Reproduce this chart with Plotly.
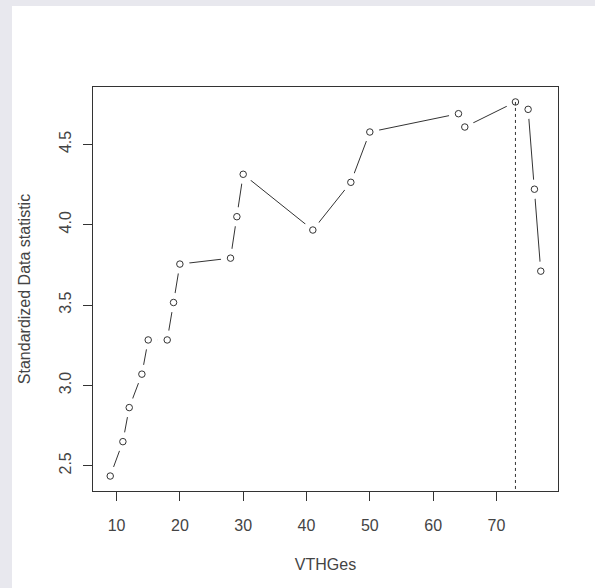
import plotly.graph_objects as go

# Data
vthges = [9, 11, 12, 14, 15, 18, 19, 20, 28, 29, 30, 41, 47, 50, 64, 65, 73, 75, 76, 77]
statistic = [2.436, 2.650, 2.862, 3.070, 3.283, 3.283, 3.516, 3.755, 3.792, 4.050,
             4.314, 3.967, 4.264, 4.577, 4.691, 4.608, 4.764, 4.718, 4.221, 3.711]
x_ticks = [10, 20, 30, 40, 50, 60, 70]
y_ticks = [2.5, 3.0, 3.5, 4.0, 4.5]
y_tick_labels = ["2.5", "3.0", "3.5", "4.0", "4.5"]
best_x = 73

# R-style 4% axis expansion
def expand(vals):
    lo, hi = min(vals), max(vals)
    d = (hi - lo) * 0.04
    return [lo - d, hi + d]

xr = expand(vthges)
yr = expand(statistic)
best_y = statistic[vthges.index(best_x)]

ink = "#333333"
fnt = dict(family="Liberation Sans, Arial, sans-serif", size=16, color="#444444")

fig = go.Figure()
# connecting lines
fig.add_trace(go.Scatter(x=vthges, y=statistic, mode="lines",
                         line=dict(color=ink, width=1), hoverinfo="skip"))
# white masks to create the type="b" gaps
fig.add_trace(go.Scatter(x=vthges, y=statistic, mode="markers",
                         marker=dict(symbol="circle", size=19.5, color="white",
                                     line=dict(width=0)), hoverinfo="skip"))
# dashed vertical line at the maximum
fig.add_trace(go.Scatter(x=[best_x, best_x], y=[best_y, yr[0]], mode="lines",
                         line=dict(color=ink, width=1, dash="3px,3px"), hoverinfo="skip"))
# open circle points
fig.add_trace(go.Scatter(x=vthges, y=statistic, mode="markers",
                         marker=dict(symbol="circle-open", size=6.5, color=ink,
                                     line=dict(width=1, color=ink))))

# outer frame: gray background with white panel
fig.add_shape(type="rect", xref="paper", yref="paper",
              x0=(12 - 93) / 465, x1=(600 - 93) / 465,
              y0=(491 - 600) / 404, y1=(491 - 6) / 404,
              fillcolor="white", line=dict(width=0), layer="below")

fig.update_layout(
    width=595, height=588,
    margin=dict(l=93, r=37, t=87, b=97),
    paper_bgcolor="#e8e8ee", plot_bgcolor="white",
    showlegend=False, font=fnt,
    xaxis=dict(range=xr, tickvals=x_ticks, ticks="outside", ticklen=9,
               tickcolor=ink, showline=True, linecolor=ink, linewidth=1, mirror=True,
               showgrid=False, zeroline=False, ticklabelstandoff=11,
               title=dict(text="VTHGes", standoff=25, font=fnt)),
    yaxis=dict(range=yr, tickvals=y_ticks, ticktext=y_tick_labels, tickangle=-90,
               ticks="outside", ticklen=9, tickcolor=ink, showline=True,
               linecolor=ink, linewidth=1, mirror=True, showgrid=False,
               zeroline=False, ticklabelstandoff=6,
               title=dict(text="Standardized Data statistic", standoff=21, font=fnt)),
)

fig.write_html(
    "out.html",
    config={"displayModeBar": False},
    post_script="document.documentElement.style.margin='0';"
                "document.body.style.margin='0';"
                "document.body.style.overflow='hidden';",
)
